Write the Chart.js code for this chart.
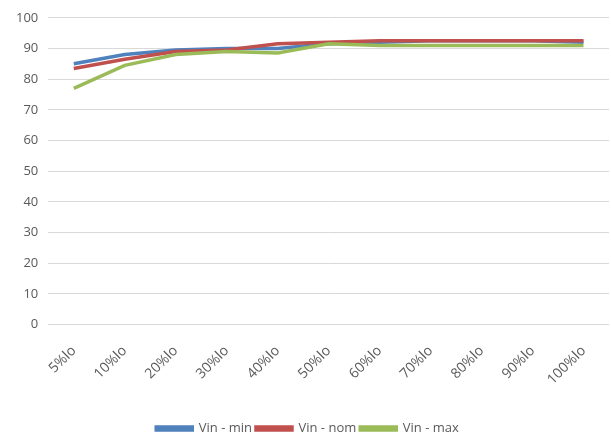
<!DOCTYPE html>
<html>
<head>
<meta charset="utf-8">
<script src="https://cdn.jsdelivr.net/npm/chart.js@4.4.0/dist/chart.umd.min.js"></script>
<style>
  html, body { margin: 0; padding: 0; background: #fff; }
  #wrap { width: 611px; height: 438px; position: relative; }
</style>
</head>
<body>
<div id="wrap"><canvas id="chartEff"></canvas></div>
<script>
// Eficiencia vs carga
const cargas = ['5%lo', '10%lo', '20%lo', '30%lo', '40%lo', '50%lo', '60%lo', '70%lo', '80%lo', '90%lo', '100%lo'];
const vinMin = [85, 88, 89.5, 90, 90, 91.5, 92, 92.5, 92.5, 92.5, 92];
const vinNom = [83.5, 86.5, 89, 89.5, 91.5, 92, 92.5, 92.5, 92.5, 92.5, 92.5];
const vinMax = [77, 84.5, 88, 89, 88.5, 91.5, 91, 91, 91, 91, 91];

const gris = '#595959';

new Chart(document.getElementById('chartEff'), {
  type: 'line',
  data: {
    labels: cargas,
    datasets: [
      // order: la última serie queda encima, como en Excel
      { label: 'Vin - min', data: vinMin, borderColor: '#4F81BD', backgroundColor: '#4F81BD', order: 2 },
      { label: 'Vin - nom', data: vinNom, borderColor: '#C0504D', backgroundColor: '#C0504D', order: 1 },
      { label: 'Vin - max', data: vinMax, borderColor: '#9BBB59', backgroundColor: '#9BBB59', order: 0 }
    ]
  },
  options: {
    responsive: true, maintainAspectRatio: false, animation: false,
    layout: { padding: { left: 6, right: 2, top: 17, bottom: -7 } },
    elements: { line: { borderWidth: 3.5, tension: 0 }, point: { radius: 0 } },
    plugins: {
      legend: {
        position: 'bottom',
        labels: {
          color: gris, font: { family: 'Open Sans', size: 13 }, boxWidth: 36, boxHeight: 3, padding: 4,
          sort: (a, b) => a.datasetIndex - b.datasetIndex
        }
      },
      tooltip: { enabled: false }
    },
    scales: {
      x: {
        offset: true,
        grid: { display: false },
        border: { display: false },
        ticks: { color: gris, font: { family: 'Open Sans', size: 14 }, maxRotation: 45, minRotation: 45, padding: 10 },
        afterFit: s => { s.height += 20; }
      },
      y: {
        min: 0, max: 100,
        ticks: { stepSize: 10, color: gris, font: { family: 'Open Sans', size: 13 }, padding: 10 },
        grid: { color: '#D9D9D9', drawTicks: false },
        border: { display: false }
      }
    }
  }
});
</script>
</body>
</html>
